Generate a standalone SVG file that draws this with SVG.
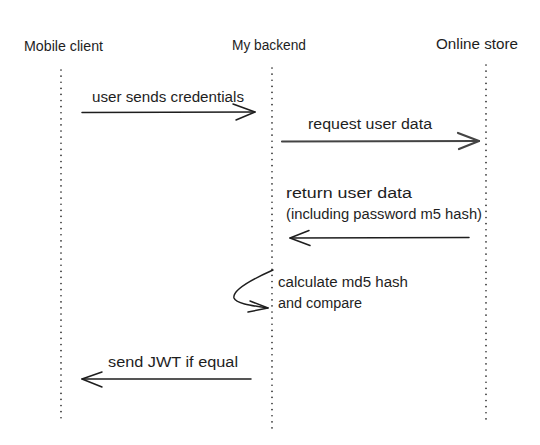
<svg xmlns="http://www.w3.org/2000/svg" width="540" height="445" viewBox="0 0 540 445">
<defs>
<style>
.bg{fill:#ffffff}
.t{font-family:"Liberation Sans","DejaVu Sans",sans-serif;font-size:14px;fill:#1e1e1e}
.life{stroke:#1e1e1e;stroke-width:1.6;stroke-linecap:round;stroke-dasharray:0.1 6;fill:none}
.msg{stroke:#1e1e1e;stroke-width:1.5;fill:none;stroke-linecap:round;stroke-linejoin:round}
.msg2{stroke:#444;stroke-width:2.2;fill:none;stroke-linecap:round;stroke-linejoin:round}
</style>
</defs>
<rect class="bg" x="0" y="0" width="540" height="445"/>
<g id="mobile-client">
<text class="t" x="24" y="51" textLength="79" lengthAdjust="spacingAndGlyphs">Mobile client</text>
<line class="life" x1="61" y1="70" x2="61" y2="418"/>
</g>
<g id="my-backend">
<text class="t" x="232" y="50" textLength="74" lengthAdjust="spacingAndGlyphs">My backend</text>
<line class="life" x1="272" y1="68" x2="272" y2="428"/>
</g>
<g id="online-store">
<text class="t" x="436" y="49" textLength="82" lengthAdjust="spacingAndGlyphs">Online store</text>
<line class="life" x1="486" y1="65" x2="486" y2="424"/>
</g>
<g id="connectors">
<g id="msg1">
<text class="t" x="92" y="102" textLength="152" lengthAdjust="spacingAndGlyphs">user sends credentials</text>
<path class="msg" d="M82 112.5 L255 112"/>
<path class="msg" d="M233 104 L255 112 L236 120"/>
</g>
<g id="msg2">
<text class="t" x="308" y="129" textLength="124" lengthAdjust="spacingAndGlyphs">request user data</text>
<path class="msg2" d="M282 141.5 L479 141"/>
<path class="msg2" d="M458 133 L479 141 L459 149"/>
</g>
<g id="msg3">
<text class="t" x="286" y="198" textLength="126" lengthAdjust="spacingAndGlyphs">return user data</text>
<text class="t" x="286" y="219" textLength="196" lengthAdjust="spacingAndGlyphs">(including password m5 hash)</text>
<path class="msg" d="M469 237.5 L290 238"/>
<path class="msg" d="M309 230.5 L290 238 L310 245.5"/>
</g>
<g id="msg4">
<text class="t" x="278" y="287" textLength="130" lengthAdjust="spacingAndGlyphs">calculate md5 hash</text>
<text class="t" x="278" y="308" textLength="84" lengthAdjust="spacingAndGlyphs">and compare</text>
<path class="msg" d="M273 270 C255 278 232 290 234 298 C236 304 255 306 268 308"/>
<path class="msg" d="M250 301 L268 308 L248 312"/>
</g>
<g id="msg5">
<text class="t" x="108" y="367" textLength="130" lengthAdjust="spacingAndGlyphs">send JWT if equal</text>
<path class="msg" d="M251 379 L82 379"/>
<path class="msg" d="M102 372 L82 379 L102 387"/>
</g>
</g>
</svg>
